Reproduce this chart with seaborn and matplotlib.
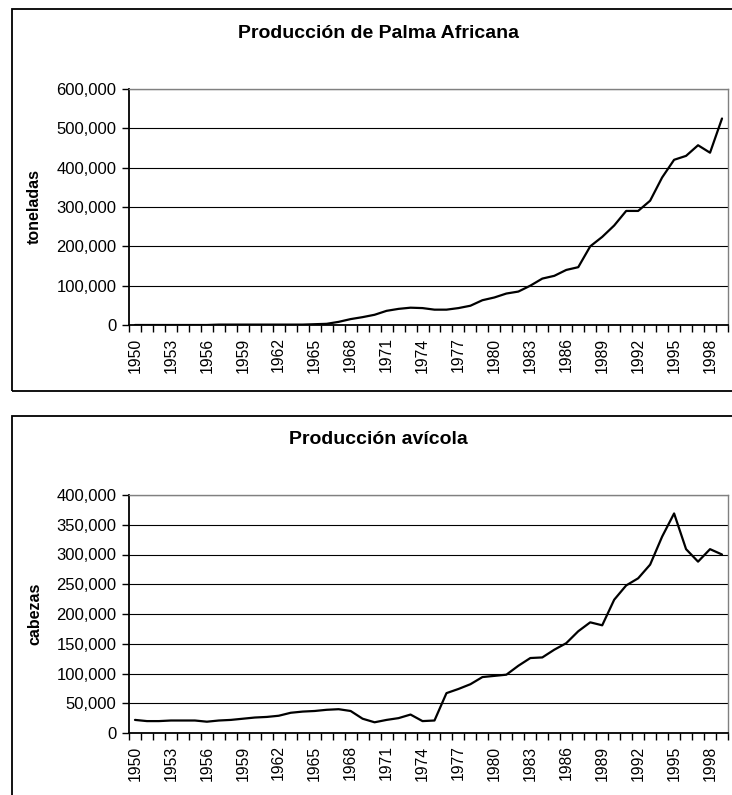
import numpy as np
import pandas as pd
import matplotlib
matplotlib.use('Agg')
import matplotlib.pyplot as plt
import seaborn as sns
from matplotlib.ticker import FuncFormatter, FixedLocator
from matplotlib.patches import Rectangle

# ─── Data ─────────────────────────────────────────────────────────────────────

years = list(range(1950, 2000))

palma = [
    0, 0, 0, 0, 0, 0, 0, 1000, 1000, 1000,
    1000, 1000, 1000, 1000, 1000, 2000, 3000, 8000, 15000, 20000,
    26000, 36000, 41000, 44000, 43000, 39000, 39000, 43000, 49000, 63000,
    70000, 80000, 85000, 100000, 118000, 125000, 140000, 147000, 200000, 224000,
    253000, 290000, 290000, 316000, 375000, 420000, 430000, 457000, 438000, 525000,
]

avicola = [
    22000, 20000, 20000, 21000, 21000, 21000, 19000, 21000, 22000, 24000,
    26000, 27000, 29000, 34000, 36000, 37000, 39000, 40000, 37000, 24000,
    18000, 22000, 25000, 31000, 20000, 21000, 67000, 74000, 82000, 94000,
    96000, 98000, 113000, 126000, 127000, 140000, 151000, 171000, 186000, 181000,
    224000, 248000, 260000, 283000, 330000, 369000, 309000, 288000, 309000, 300000,
]

label_years = years[::3]

titles = ['Producción de Palma Africana', 'Producción avícola']
ylabels = ['toneladas', 'cabezas']
ymaxes = [600000, 400000]
ysteps = [100000, 50000]

df = pd.DataFrame({'year': years, 'palma': palma, 'avicola': avicola})

# ─── Figure ───────────────────────────────────────────────────────────────────

sns.set_theme(style='white')
plt.rcParams['font.family'] = ['Liberation Sans', 'DejaVu Sans']
plt.rcParams.update({'text.color': 'black', 'axes.labelcolor': 'black',
                     'xtick.color': 'black', 'ytick.color': 'black'})

W, H = 732, 795
fig = plt.figure(figsize=(W / 100, H / 100), dpi=100)


def px_axes(left, top, right, bottom):
    return fig.add_axes([left / W, 1 - bottom / H, (right - left) / W, (bottom - top) / H])


def chart_box(left, top, right, bottom):
    fig.patches.append(Rectangle((left / W, 1 - bottom / H), (right - left) / W,
                                 (bottom - top) / H, transform=fig.transFigure,
                                 fill=False, edgecolor='black', linewidth=1.3))


chart_box(12, 9, 746, 391)
chart_box(12, 416, 746, 812)

axes = [px_axes(129, 89, 728, 325), px_axes(129, 495, 728, 733)]
cols = ['palma', 'avicola']
title_y = [33, 440]

for ax, col, title, ylab, ymax, ystep, ty in zip(axes, cols, titles, ylabels,
                                                 ymaxes, ysteps, title_y):
    sns.lineplot(data=df, x='year', y=col, ax=ax, color='black', linewidth=1.6)
    ax.set_xlim(1949.5, 1999.5)
    ax.set_ylim(0, ymax)
    ax.set_yticks(np.arange(0, ymax + 1, ystep))
    ax.yaxis.set_major_formatter(FuncFormatter(lambda v, p: f'{int(v):,}'))
    ax.grid(axis='y', color='black', linewidth=0.8)
    ax.set_axisbelow(True)

    ax.xaxis.set_major_locator(FixedLocator(label_years))
    ax.set_xticklabels([str(y) for y in label_years], rotation=90)
    ax.xaxis.set_minor_locator(FixedLocator(np.arange(1949.5, 2000, 1)))
    ax.tick_params(axis='x', which='major', length=0, pad=9, labelsize=11.3)
    ax.tick_params(axis='x', which='minor', length=5, width=1, color='black',
                   direction='out', bottom=True)
    ax.tick_params(axis='y', length=5, width=1, color='black', direction='out',
                   left=True, pad=4, labelsize=12)

    for side in ['top', 'right']:
        ax.spines[side].set_color('#808080')
        ax.spines[side].set_linewidth(1)
    for side in ['left', 'bottom']:
        ax.spines[side].set_color('black')
        ax.spines[side].set_linewidth(1.3)

    ax.set_xlabel('')
    ax.set_ylabel(ylab, fontsize=11.5, fontweight='bold')
    ax.yaxis.set_label_coords(-0.145, 0.5)

    fig.text(378 / W, 1 - ty / H, title, ha='center', va='center',
             fontsize=14, fontweight='bold')

fig.savefig('out.png', dpi=100)
plt.close(fig)
